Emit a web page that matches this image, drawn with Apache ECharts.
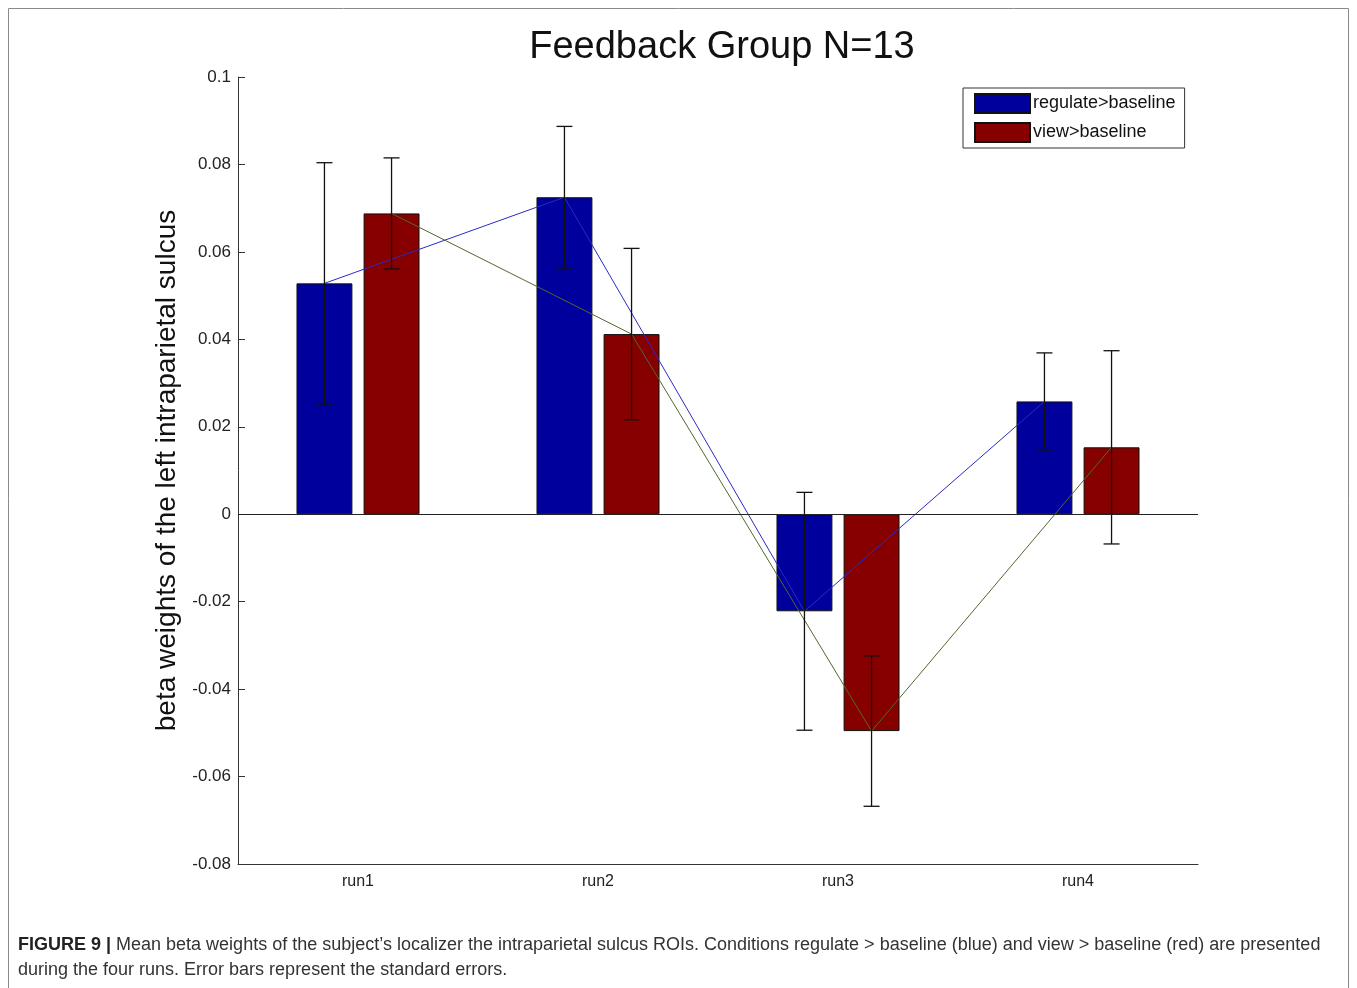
<!DOCTYPE html>
<html>
<head>
<meta charset="utf-8">
<script src="https://cdn.jsdelivr.net/npm/echarts@6/dist/echarts.min.js"></script>
<style>
  html, body { margin: 0; padding: 0; background: #fff; }
  #chart { width: 1357px; height: 988px; }
</style>
</head>
<body>
<div id="chart"></div>
<script>
// ---- data ----
const categories = ['run1', 'run2', 'run3', 'run4'];
const regulate = [0.0528, 0.0725, -0.0222, 0.0258];
const view = [0.0688, 0.0412, -0.0496, 0.0153];
const regulateSE = [0.0276, 0.0162, 0.0272, 0.0111];
const viewSE = [0.0127, 0.0196, 0.0172, 0.0221];
const yMin = -0.08, yMax = 0.1, yStep = 0.02;
const seriesNames = ['regulate>baseline', 'view>baseline'];

// ---- layout constants ----
const BAR_W = 0.233, BAR_GAP = 0.2;
const OFF = BAR_W * (1 + BAR_GAP) / 2; // bar centre offset in category units
const FONT = "'Liberation Sans Narrow', 'Liberation Sans', Arial, sans-serif";
const SANS = "'Liberation Sans', Arial, sans-serif";

const regPts = regulate.map((v, i) => [i - OFF, v]);
const viewPts = view.map((v, i) => [i + OFF, v]);
const errData = [];
regulate.forEach((v, i) => errData.push([i - OFF, v - regulateSE[i], v + regulateSE[i]]));
view.forEach((v, i) => errData.push([i + OFF, v - viewSE[i], v + viewSE[i]]));

const chart = echarts.init(document.getElementById('chart'), null, { renderer: 'canvas' });

const option = {
  animation: false,
  backgroundColor: '#fff',
  title: {
    text: 'Feedback Group N=13',
    left: 717, top: 24, textAlign: 'center',
    textStyle: { fontFamily: SANS, fontSize: 38, fontWeight: 'normal', color: '#111' }
  },
  legend: {
    data: seriesNames,
    orient: 'vertical',
    left: 963, top: 88,
    padding: [5, 9, 5, 11],
    itemGap: 8,
    itemWidth: 55, itemHeight: 19,
    borderColor: '#333', borderWidth: 1,
    icon: 'rect',
    textStyle: { fontFamily: FONT, fontSize: 18, color: '#111', padding: [0, 0, 0, -2] }
  },
  grid: { left: 238, right: 159, top: 77, bottom: 124, containLabel: false },
  xAxis: [{
    type: 'category',
    data: categories,
    boundaryGap: true,
    axisLine: { onZero: false, lineStyle: { color: '#333', width: 1 } },
    axisTick: { inside: true, alignWithLabel: true, length: 7, lineStyle: { color: '#333' } },
    axisLabel: { fontFamily: FONT, fontSize: 16, color: '#222', margin: 10 },
    splitLine: { show: false }
  }, {
    type: 'value', min: -0.5, max: 3.5, show: false
  }],
  yAxis: {
    type: 'value',
    min: yMin, max: yMax, interval: yStep,
    name: 'beta weights of the left intraparietal sulcus',
    nameLocation: 'middle', nameRotate: 90, nameGap: 57,
    nameTextStyle: { fontFamily: SANS, fontSize: 28, color: '#111' },
    axisLine: { show: true, onZero: false, lineStyle: { color: '#333', width: 1 } },
    axisTick: { show: true, inside: true, length: 7, lineStyle: { color: '#333' } },
    axisLabel: { fontFamily: FONT, fontSize: 17, color: '#222', margin: 7 },
    splitLine: { show: false }
  },
  series: [
    {
      name: seriesNames[0], type: 'bar', data: regulate,
      barWidth: (BAR_W * 100) + '%', barGap: (BAR_GAP * 100) + '%',
      itemStyle: { color: '#00009c', borderColor: '#111', borderWidth: 1 },
      z: 2,
      markLine: {
        silent: true, symbol: 'none', label: { show: false },
        lineStyle: { color: '#222', width: 1, type: 'solid' },
        data: [{ yAxis: 0 }]
      }
    },
    {
      name: seriesNames[1], type: 'bar', data: view,
      barWidth: (BAR_W * 100) + '%', barGap: (BAR_GAP * 100) + '%',
      itemStyle: { color: '#870000', borderColor: '#111', borderWidth: 1 },
      z: 2
    },
    {
      name: 'regulate line', type: 'line', xAxisIndex: 1, data: regPts,
      symbol: 'none', lineStyle: { color: '#2a2ac8', width: 1 }, z: 3
    },
    {
      name: 'view line', type: 'line', xAxisIndex: 1, data: viewPts,
      symbol: 'none', lineStyle: { color: '#4f6a2c', width: 1 }, z: 3
    },
    {
      name: 'errors', type: 'custom', xAxisIndex: 1, data: errData, z: 4,
      renderItem: function (params, api) {
        const x = api.value(0);
        const lo = api.coord([x, api.value(1)]);
        const hi = api.coord([x, api.value(2)]);
        const cap = 8;
        const style = { stroke: '#111', lineWidth: 1.3 };
        return {
          type: 'group',
          children: [
            { type: 'line', shape: { x1: lo[0], y1: lo[1], x2: hi[0], y2: hi[1] }, style: style },
            { type: 'line', shape: { x1: hi[0] - cap, y1: hi[1], x2: hi[0] + cap, y2: hi[1] }, style: style },
            { type: 'line', shape: { x1: lo[0] - cap, y1: lo[1], x2: lo[0] + cap, y2: lo[1] }, style: style }
          ]
        };
      }
    }
  ],
  graphic: [
    {
      type: 'rect', silent: true, z: 0,
      shape: { x: 8.5, y: 8.5, width: 1340, height: 1000 },
      style: { fill: 'none', stroke: '#8a8a8a', lineWidth: 1 }
    },
    {
      type: 'text', left: 18, top: 933, silent: true,
      style: {
        text: '{b|FIGURE 9 |} Mean beta weights of the subject\u2019s localizer the intraparietal sulcus ROIs. Conditions regulate > baseline (blue) and view > baseline (red) are presented\nduring the four runs. Error bars represent the standard errors.',
        fontFamily: SANS,
        fontSize: 18, lineHeight: 25, fill: '#333',
        rich: { b: { fontWeight: 'bold', fontSize: 18, fill: '#222', fontFamily: SANS } }
      }
    }
  ]
};

chart.setOption(option);
</script>
</body>
</html>
